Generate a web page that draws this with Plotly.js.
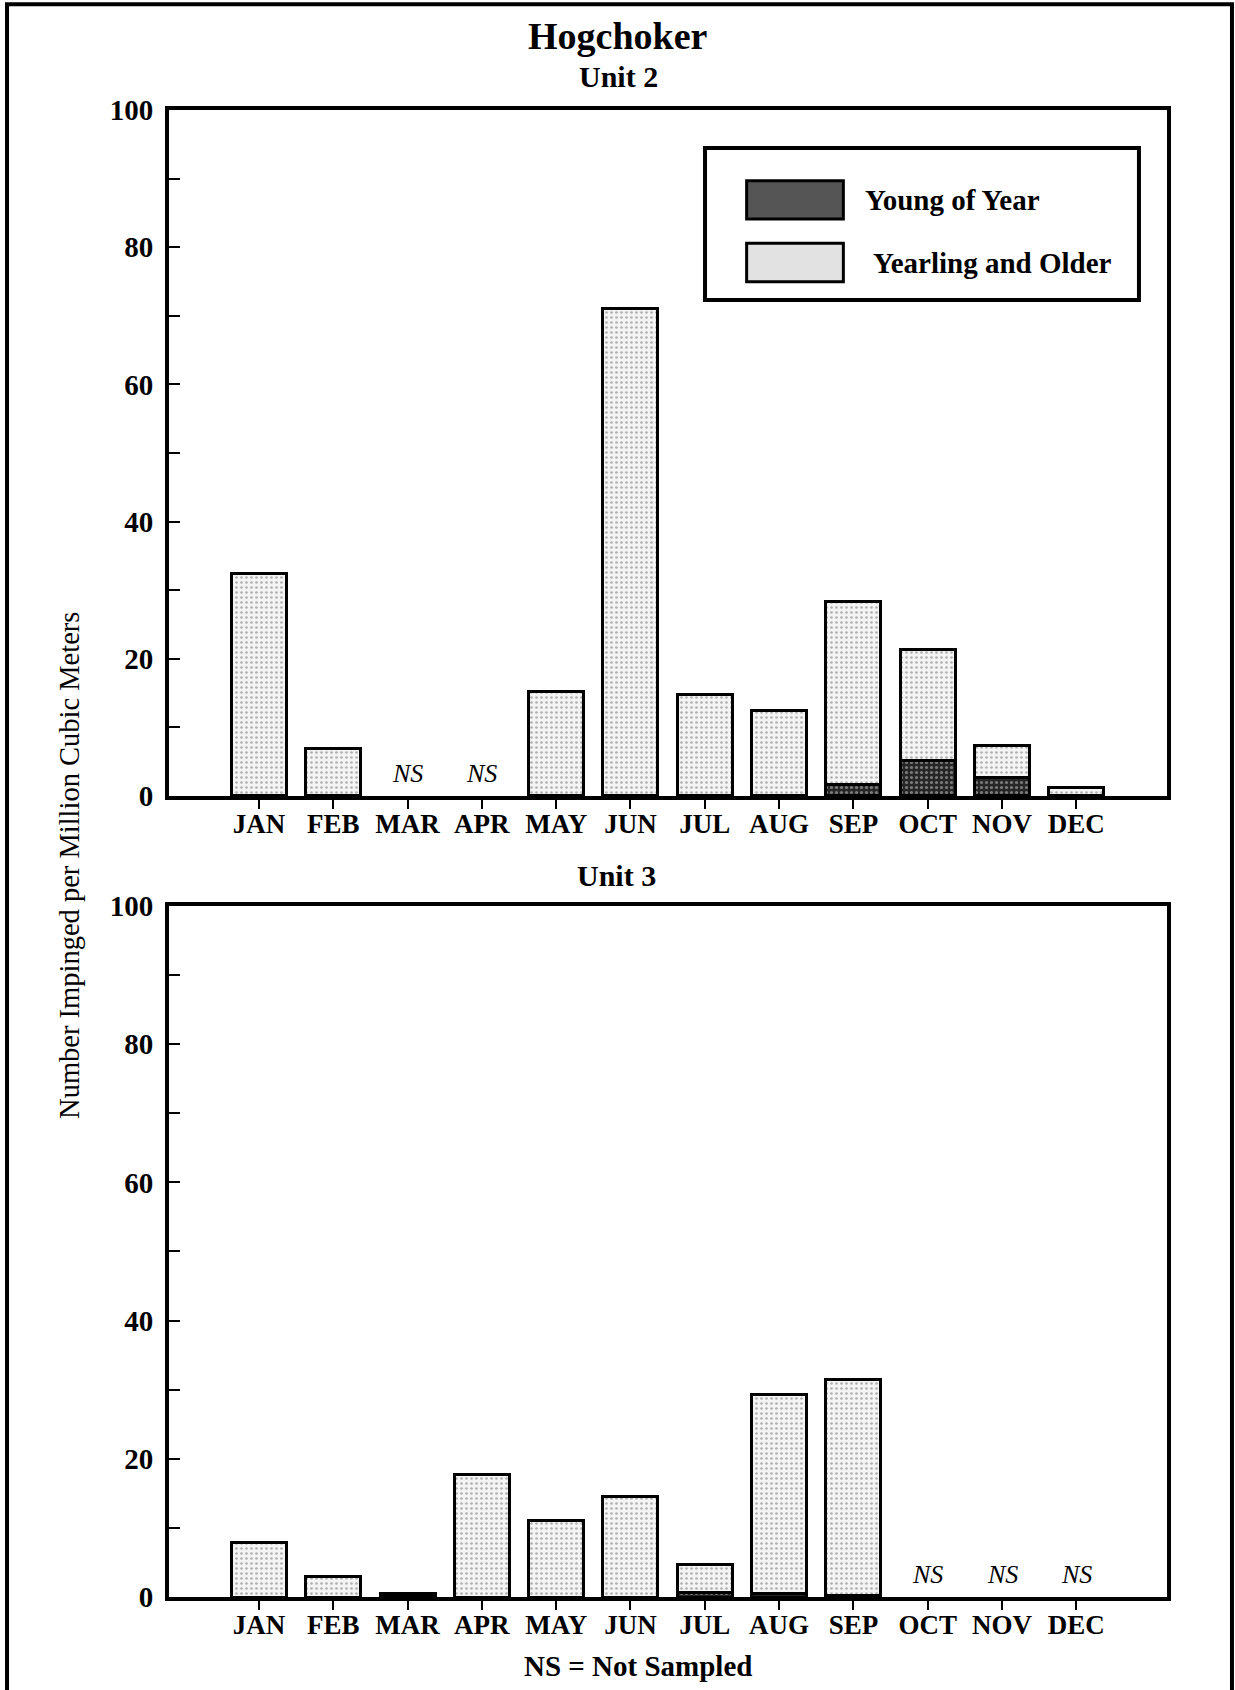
<!DOCTYPE html>
<html>
<head>
<meta charset="utf-8">
<script src="https://cdn.plot.ly/plotly-3.0.1.min.js"></script>
<style>
  html, body { margin: 0; padding: 0; background: #ffffff; }
  #chart { width: 1235px; height: 1690px; }
</style>
</head>
<body>
<div id="chart"></div>
<script>
// Hogchoker impingement by month, Units 2 and 3.
// null marks a month that was not sampled (NS).
const months = ['JAN', 'FEB', 'MAR', 'APR', 'MAY', 'JUN', 'JUL', 'AUG', 'SEP', 'OCT', 'NOV', 'DEC'];

const unit2Young = [0, 0, null, null, 0, 0, 0, 0, 1.6, 5.1, 2.7, 0];
const unit2Older = [32.5, 6.9, null, null, 15.2, 71.1, 14.8, 12.4, 26.7, 16.3, 4.6, 1.2];

const unit3Young = [0, 0, 0.4, 0, 0, 0, 0.7, 0.5, 0.2, null, null, null];
const unit3Older = [7.9, 2.9, 0.1, 17.8, 11.0, 14.5, 4.0, 28.8, 31.3, null, null, null];

const yTickVals = [0, 10, 20, 30, 40, 50, 60, 70, 80, 90, 100];
const yTickText = ['0', '', '20', '', '40', '', '60', '', '80', '', '100'];

const seriesNames = ['Young of Year', 'Yearling and Older'];

const SERIF = 'Liberation Serif, Times New Roman, serif';

const youngStyle = {
  color: '#3a3a3a',
  line: { color: '#000', width: 3 },
  pattern: { shape: '.', bgcolor: '#262626', fgcolor: '#cfcfcf', size: 5, solidity: 0.3, fillmode: 'overlay' }
};
const olderStyle = {
  color: '#f2f2f2',
  line: { color: '#000', width: 3 },
  pattern: { shape: '.', bgcolor: '#f4f4f4', fgcolor: '#6a6a6a', size: 5, solidity: 0.22, fillmode: 'overlay' }
};

// zero-height segments are left undrawn so no stray outline sits on the axis
const drawable = arr => arr.map(v => (v === 0 ? null : v));

function barPair(young, older, xa, ya) {
  return [
    { type: 'bar', x: months, y: drawable(young), name: seriesNames[0], xaxis: xa, yaxis: ya,
      width: 0.74, marker: youngStyle, hoverinfo: 'x+y+name' },
    { type: 'bar', x: months, y: drawable(older), name: seriesNames[1], xaxis: xa, yaxis: ya,
      width: 0.74, marker: olderStyle, hoverinfo: 'x+y+name' }
  ];
}

const traces = [
  ...barPair(unit2Young, unit2Older, 'x', 'y'),
  ...barPair(unit3Young, unit3Older, 'x2', 'y2')
];

function xAxis(anchor) {
  return {
    anchor: anchor,
    type: 'category',
    categoryorder: 'array',
    categoryarray: months,
    range: [-1.21, 12.22],
    showgrid: false, zeroline: false,
    showline: true, linecolor: '#000', linewidth: 4, mirror: true,
    ticks: 'outside', ticklen: 9, tickwidth: 2, tickcolor: '#000',
    ticklabelstandoff: -8,
    tickfont: { family: SERIF, size: 27, color: '#000', weight: 'bold' },
    fixedrange: true
  };
}

function yAxis(anchor, domain) {
  return {
    anchor: anchor,
    domain: domain,
    range: [0, 100],
    tickmode: 'array', tickvals: yTickVals, ticktext: yTickText,
    showgrid: false, zeroline: false,
    showline: true, linecolor: '#000', linewidth: 4, mirror: true,
    ticks: 'inside', ticklen: 11, tickwidth: 2, tickcolor: '#000',
    ticklabelstandoff: 6,
    tickfont: { family: SERIF, size: 29, color: '#000', weight: 'bold' },
    fixedrange: true
  };
}

// "NS" notes for months with no sample
function nsNotes(young, xref, yref) {
  return months
    .filter((m, i) => young[i] === null)
    .map(m => ({
      x: m, y: 3.3, xref: xref, yref: yref, text: 'NS', showarrow: false,
      yanchor: 'middle', xanchor: 'center',
      font: { family: SERIF, size: 26, color: '#000', style: 'italic' }
    }));
}

const annotations = [
  { text: 'Hogchoker', xref: 'paper', yref: 'paper', x: 0.4494, y: 1.0498, showarrow: false,
    xanchor: 'center', yanchor: 'middle', font: { family: SERIF, size: 38, color: '#000', weight: 'bold' } },
  { text: 'Unit 2', xref: 'paper', yref: 'paper', x: 0.4505, y: 1.0225, showarrow: false,
    xanchor: 'center', yanchor: 'middle', font: { family: SERIF, size: 30, color: '#000', weight: 'bold' } },
  { text: 'Unit 3', xref: 'paper', yref: 'paper', x: 0.4485, y: 0.4855, showarrow: false,
    xanchor: 'center', yanchor: 'middle', font: { family: SERIF, size: 30, color: '#000', weight: 'bold' } },
  { text: 'NS = Not Sampled', xref: 'paper', yref: 'paper', x: 0.4704, y: -0.0464, showarrow: false,
    xanchor: 'center', yanchor: 'middle', font: { family: SERIF, size: 29, color: '#000', weight: 'bold' } },
  { text: 'Number Impinged per Million Cubic Meters', xref: 'paper', yref: 'paper', x: -0.0992, y: 0.4923,
    textangle: -90, showarrow: false, xanchor: 'center', yanchor: 'middle',
    font: { family: SERIF, size: 28.5, color: '#000' } },
  // legend labels
  { text: seriesNames[0], xref: 'paper', yref: 'paper', x: 0.6954, y: 0.9395, showarrow: false,
    xanchor: 'left', yanchor: 'middle', font: { family: SERIF, size: 29, color: '#000', weight: 'bold' } },
  { text: seriesNames[1], xref: 'paper', yref: 'paper', x: 0.7034, y: 0.8971, showarrow: false,
    xanchor: 'left', yanchor: 'middle', font: { family: SERIF, size: 29, color: '#000', weight: 'bold' } },
  ...nsNotes(unit2Young, 'x', 'y'),
  ...nsNotes(unit3Young, 'x2', 'y2')
];

const shapes = [
  // page frame
  { type: 'rect', xref: 'paper', yref: 'paper', x0: -0.1623, x1: 1.0651, y0: -0.2, y1: 1.0712,
    line: { color: '#000', width: 4 }, fillcolor: 'rgba(0,0,0,0)', layer: 'below' },
  // legend box
  { type: 'rect', xref: 'paper', yref: 'paper', x0: 0.5371, x1: 0.9719, y0: 0.8723, y1: 0.9745,
    line: { color: '#000', width: 4 }, fillcolor: '#ffffff' },
  // legend swatches
  { type: 'rect', xref: 'paper', yref: 'paper', x0: 0.5788, x1: 0.6757, y0: 0.9267, y1: 0.9524,
    line: { color: '#000', width: 3 }, fillcolor: '#555555' },
  { type: 'rect', xref: 'paper', yref: 'paper', x0: 0.5788, x1: 0.6757, y0: 0.8845, y1: 0.9104,
    line: { color: '#000', width: 3 }, fillcolor: '#e2e2e2' }
];

const layout = {
  width: 1235,
  height: 1690,
  margin: { l: 169, r: 68, t: 110, b: 93 },
  paper_bgcolor: '#ffffff',
  plot_bgcolor: '#ffffff',
  showlegend: false,
  barmode: 'stack',
  font: { family: SERIF, color: '#000' },
  xaxis: xAxis('y'),
  yaxis: yAxis('x', [0.5387, 1]),
  xaxis2: xAxis('y2'),
  yaxis2: yAxis('x2', [0, 0.4647]),
  annotations: annotations,
  shapes: shapes
};

Plotly.newPlot('chart', traces, layout, { staticPlot: true, displayModeBar: false });
</script>
</body>
</html>
